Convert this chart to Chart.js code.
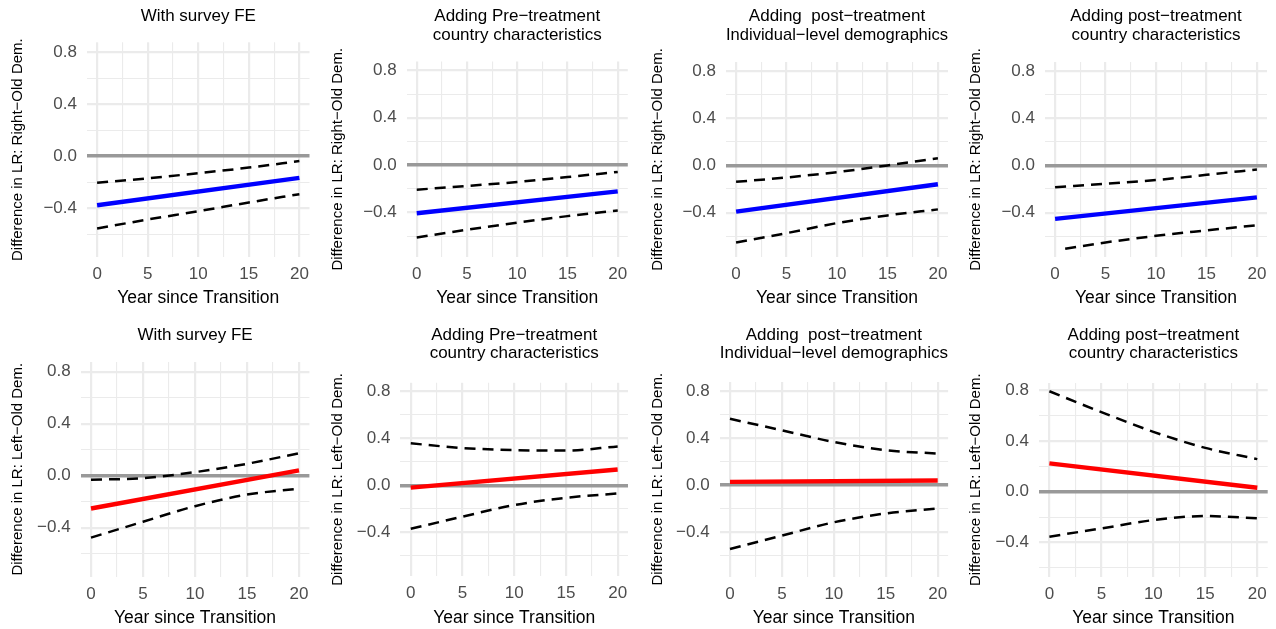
<!DOCTYPE html>
<html>
<head>
<meta charset="utf-8">
<script src="https://cdn.jsdelivr.net/npm/chart.js@4.4.1/dist/chart.umd.min.js"></script>
<style>
  html, body { margin: 0; padding: 0; background: #fff; }
  body { width: 1276px; height: 629px; position: relative; overflow: hidden; }
  canvas { position: absolute; }
</style>
</head>
<body>
<script>
// --- DATA ---
const years = [0, 5, 10, 15, 20];
const clippedYears = [1, 5, 10, 15, 20];   // first point dropped by the y-limit
const fitYears = [0, 20];

const panelTitles = [
  ['With survey FE'],
  ['Adding Pre\u2212treatment', 'country characteristics'],
  ['Adding  post\u2212treatment', 'Individual\u2212level demographics'],
  ['Adding post\u2212treatment', 'country characteristics']
];
const rightTitle = 'Difference in LR: Right\u2212Old Dem.';
const leftTitle = 'Difference in LR: Left\u2212Old Dem.';
const xTitle = 'Year since Transition';

// top row: Right vs Old Dem.
const rightFit = [[-0.377, -0.167], [-0.406, -0.221], [-0.391, -0.159], [-0.452, -0.270]];
const rightUpper = [
  [-0.205, -0.170, -0.131, -0.088, -0.038],
  [-0.207, -0.175, -0.142, -0.100, -0.057],
  [-0.139, -0.102, -0.057, 0.000, 0.060],
  [-0.185, -0.155, -0.124, -0.080, -0.034]
];
const rightLower = [
  [-0.556, -0.487, -0.423, -0.356, -0.292],
  [-0.610, -0.545, -0.485, -0.430, -0.383],
  [-0.652, -0.573, -0.488, -0.423, -0.372],
  [-0.705, -0.652, -0.596, -0.550, -0.506]
];

// bottom row: Left vs Old Dem.
const leftFit = [[-0.252, 0.041], [-0.020, 0.135], [0.028, 0.039], [0.224, 0.032]];
const leftUpper = [
  [-0.031, -0.018, 0.028, 0.092, 0.173],
  [0.358, 0.318, 0.300, 0.296, 0.332],
  [0.563, 0.465, 0.366, 0.296, 0.268],
  [0.795, 0.630, 0.474, 0.347, 0.258]
];
const leftLower = [
  [-0.476, -0.354, -0.234, -0.145, -0.099],
  [-0.372, -0.268, -0.169, -0.107, -0.070],
  [-0.541, -0.428, -0.315, -0.240, -0.197],
  [-0.355, -0.290, -0.224, -0.192, -0.210]
];

const yTickValues = [-0.6, -0.4, -0.2, 0, 0.2, 0.4, 0.6, 0.8];
const yTickLabels = { '-0.4': '\u22120.4', '0': '0.0', '0.4': '0.4', '0.8': '0.8' };
const xTickValues = [0, 2.5, 5, 7.5, 10, 12.5, 15, 17.5, 20];
const xTickLabels = { '0': '0', '5': '5', '10': '10', '15': '15', '20': '20' };
const yLimits = [
  [-0.775, 0.875], [-0.775, 0.875], [-0.775, 0.875], [-0.775, 0.875],
  [-0.775, 0.875], [-0.775, 0.875], [-0.775, 0.875], [-0.67, 0.86]
];

// --- LAYOUT (absolute px of each plot panel) ---
const boxes = [
  { cx: 0,   cy: 0,   L: 87,    R: 309.5,  T: 42.3, B: 257 },
  { cx: 320, cy: 0,   L: 406.7, R: 627.8,  T: 61.5, B: 257 },
  { cx: 640, cy: 0,   L: 726,   R: 948,    T: 62,   B: 257 },
  { cx: 958, cy: 0,   L: 1045,  R: 1267,   T: 62,   B: 257 },
  { cx: 0,   cy: 314, L: 80.6,  R: 309.4,  T: 362,  B: 576.5 },
  { cx: 320, cy: 314, L: 400.4, R: 628,    T: 382.8, B: 576 },
  { cx: 640, cy: 314, L: 719.6, R: 948.1,  T: 382,  B: 576.5 },
  { cx: 958, cy: 314, L: 1039,  R: 1267.7, T: 383,  B: 576.5 }
];

Chart.defaults.font.family = '"Liberation Sans", Arial, sans-serif';

const key = v => String(Math.round(v * 10) / 10);
const pts = (xs, ys) => xs.map((x, k) => ({ x: x, y: ys[k] }));

function makePanel(i) {
  const row = i < 4 ? 0 : 1, col = i % 4;
  const b = boxes[i];
  const h = 315;
  const w = Math.round(b.R - b.cx + 15);
  const cv = document.createElement('canvas');
  cv.width = w; cv.height = h;
  cv.style.left = b.cx + 'px'; cv.style.top = b.cy + 'px';
  cv.style.width = w + 'px'; cv.style.height = h + 'px';
  document.body.appendChild(cv);

  const title = panelTitles[col];
  const titleSize = 17, titleLH = 1.08;
  const titleTop = row === 0 ? 7.5 : 12;
  const titleBottom = (b.T - b.cy) - titleTop - title.length * titleSize * titleLH;

  const fit = row === 0 ? rightFit[col] : leftFit[col];
  const upper = row === 0 ? rightUpper[col] : leftUpper[col];
  const lower = row === 0 ? rightLower[col] : leftLower[col];
  const lowerYears = (row === 0 && col === 3) ? clippedYears : years;
  const color = row === 0 ? '#0000FF' : '#FF0000';

  const dashed = {
    borderColor: '#000000', borderWidth: 2.5, borderDash: [11, 7],
    pointRadius: 0, cubicInterpolationMode: 'monotone', fill: false
  };

  new Chart(cv, {
    type: 'line',
    data: {
      datasets: [
        { data: pts(fitYears, fit), borderColor: color, borderWidth: 4.4,
          borderCapStyle: 'butt', pointRadius: 0, fill: false },
        Object.assign({ data: pts(years, upper) }, dashed),
        Object.assign({ data: pts(lowerYears, lower) }, dashed)
      ]
    },
    options: {
      responsive: false,
      devicePixelRatio: 1,
      animation: false,
      layout: { padding: { left: 0, top: 0, bottom: 0, right: w - (b.R - b.cx) } },
      plugins: {
        legend: { display: false },
        tooltip: { enabled: false },
        title: {
          display: true, text: title, fullSize: false, color: '#000000',
          font: { size: titleSize, weight: 'normal', lineHeight: titleLH },
          padding: { top: titleTop, bottom: titleBottom }
        }
      },
      scales: {
        x: {
          type: 'linear', min: -1, max: 21,
          border: { display: false },
          grid: {
            drawTicks: false, color: '#EBEBEB',
            lineWidth: c => (c.tick && xTickLabels[key(c.tick.value)]) ? 2.2 : 1.1
          },
          afterBuildTicks: s => { s.ticks = xTickValues.map(v => ({ value: v })); },
          afterFit: s => { s.height = b.cy + h - b.B; },
          ticks: {
            autoSkip: false, maxRotation: 0, padding: 7.3, color: '#4D4D4D',
            font: { size: 17 },
            callback: v => xTickLabels[key(v)] || ''
          },
          title: {
            display: true, text: xTitle, color: '#000000',
            font: { size: 17.5 }, padding: { top: 0, bottom: row === 0 ? 6.2 : 0.8 }
          }
        },
        y: {
          type: 'linear', min: yLimits[i][0], max: yLimits[i][1],
          border: { display: false },
          grid: {
            drawTicks: false,
            color: c => (c.tick && Math.abs(c.tick.value) < 1e-9) ? '#999999' : '#EBEBEB',
            lineWidth: c => {
              if (!c.tick) return 1.1;
              if (Math.abs(c.tick.value) < 1e-9) return 3.5;
              return yTickLabels[key(c.tick.value)] ? 2.2 : 1.1;
            }
          },
          afterBuildTicks: s => {
            s.ticks = yTickValues.filter(v => v >= s.min && v <= s.max).map(v => ({ value: v }));
          },
          afterFit: s => { s.width = b.L - b.cx; },
          ticks: {
            autoSkip: false, padding: 10, color: '#4D4D4D',
            font: { size: 17 },
            callback: v => yTickLabels[key(v)] || ''
          },
          title: {
            display: true, text: row === 0 ? rightTitle : leftTitle, color: '#000000',
            font: { size: 15 }, padding: { top: 9.3, bottom: 0 }
          }
        }
      }
    }
  });
}

for (let i = 0; i < 8; i++) makePanel(i);
</script>
</body>
</html>
